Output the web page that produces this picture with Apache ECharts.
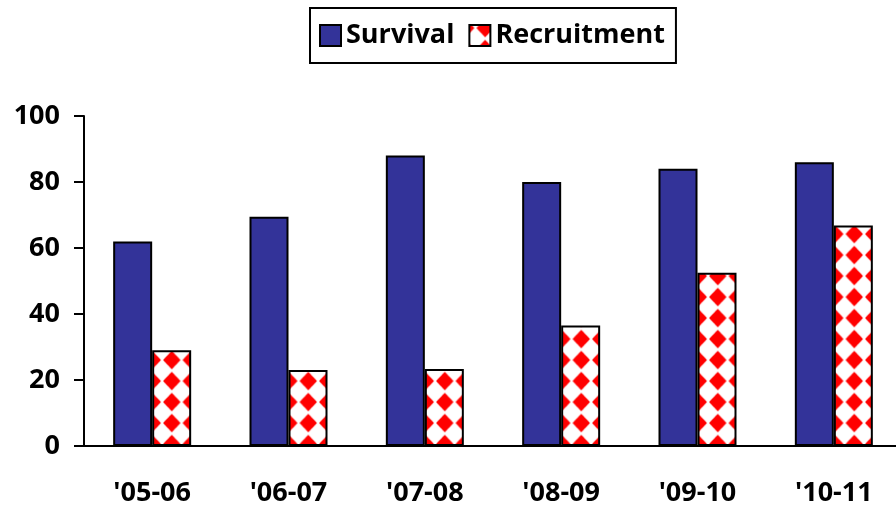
<!DOCTYPE html>
<html>
<head>
<meta charset="utf-8">
<script src="https://cdn.jsdelivr.net/npm/echarts@6/dist/echarts.min.js"></script>
<style>
  html, body { margin: 0; padding: 0; background: #fff; }
  #chart { width: 896px; height: 510px; }
</style>
</head>
<body>
<div id="chart"></div>
<script>
// 数据
const seasons = ["'05-06", "'06-07", "'07-08", "'08-09", "'09-10", "'10-11"];
const survival = [62, 69.5, 88, 80, 84, 86];
const recruitment = [29, 23, 23.3, 36.5, 52.5, 66.8];
const yTicks = { min: 0, max: 100, interval: 20 };

// 红色菱形图案
function diamondTile() {
    const c = document.createElement("canvas");
    c.width = 20;
    c.height = 21;
    const ctx = c.getContext("2d");
    ctx.fillStyle = "#fff";
    ctx.fillRect(0, 0, 20, 21);
    ctx.fillStyle = "#ff0000";
    ctx.beginPath();
    ctx.moveTo(10, 1.2);
    ctx.lineTo(19, 10.5);
    ctx.lineTo(10, 19.8);
    ctx.lineTo(1, 10.5);
    ctx.closePath();
    ctx.fill();
    return c;
}

const font = "Open Sans";
const label = { fontFamily: font, fontSize: 27, fontWeight: "bold", color: "#000" };
const chart = echarts.init(document.getElementById("chart"));
chart.setOption({
    animation: false,
    textStyle: { fontFamily: font },
    legend: {
        left: 310,
        top: 8,
        padding: [14, 11, 14, 9],
        borderColor: "#000",
        borderWidth: 2,
        itemWidth: 21,
        itemHeight: 21,
        itemGap: 14,
        icon: "rect",
        textStyle: label,
        data: ["Survival", "Recruitment"],
    },
    grid: {
        left: 84,
        top: 116,
        bottom: 64,
        width: 818,
        outerBoundsMode: "none",
    },
    xAxis: {
        type: "category",
        data: seasons,
        axisLine: { lineStyle: { color: "#000", width: 2 } },
        axisTick: { length: 10, lineStyle: { color: "#000", width: 2 } },
        axisLabel: Object.assign({ margin: 34 }, label),
    },
    yAxis: {
        type: "value",
        min: yTicks.min,
        max: yTicks.max,
        interval: yTicks.interval,
        splitLine: { show: false },
        axisLine: { show: true, lineStyle: { color: "#000", width: 2 } },
        axisTick: { show: true, length: 10, lineStyle: { color: "#000", width: 2 } },
        axisLabel: Object.assign({ margin: 24 }, label),
    },
    series: [
        {
            name: "Survival",
            type: "bar",
            data: survival,
            barWidth: 39,
            barGap: "0%",
            itemStyle: {
                color: "#333399",
                borderColor: "#000",
                borderWidth: 2,
            },
        },
        {
            name: "Recruitment",
            type: "bar",
            data: recruitment,
            barWidth: 39,
            barGap: "0%",
            itemStyle: {
                color: {
                    image: diamondTile(),
                    repeat: "repeat",
                    x: 6,
                    y: 13.5,
                    scaleX: 0.975,
                },
                borderColor: "#000",
                borderWidth: 2,
            },
        },
    ],
});
</script>
</body>
</html>
